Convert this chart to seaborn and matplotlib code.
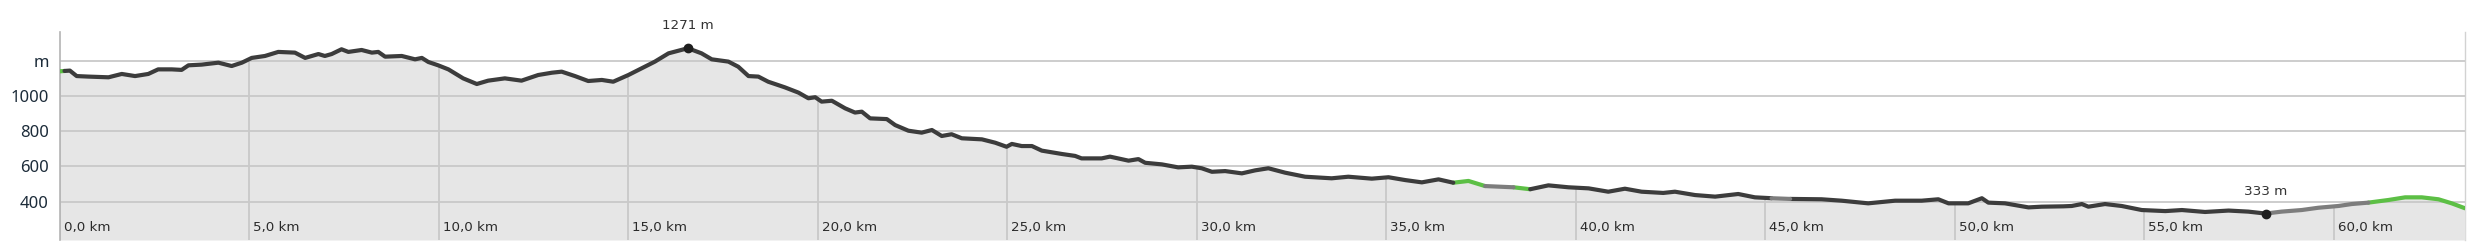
import numpy as np
import pandas as pd
import matplotlib
matplotlib.use("Agg")
import matplotlib.pyplot as plt
from matplotlib import transforms
import seaborn as sns

# ---- data ----
km = np.array([
    0.00, 0.12, 0.26, 0.44, 0.75, 1.28, 1.63, 1.98, 2.33, 2.59, 2.95, 3.21, 3.39, 3.74,
    4.18, 4.53, 4.80, 5.06, 5.41, 5.76, 6.20, 6.47, 6.82, 6.99, 7.17, 7.43, 7.61, 7.96,
    8.23, 8.40, 8.58, 9.02, 9.37, 9.55, 9.72, 9.98, 10.25, 10.64, 11.00, 11.30, 11.74,
    12.18, 12.62, 12.98, 13.24, 13.59, 13.94, 14.30, 14.60, 15.00, 15.35, 15.70, 16.06,
    16.57, 16.93, 17.20, 17.64, 17.90, 18.17, 18.43, 18.69, 19.13, 19.49, 19.75, 19.93,
    20.10, 20.37, 20.72, 20.98, 21.16, 21.38, 21.82, 22.04, 22.39, 22.74, 23.01, 23.27,
    23.53, 23.80, 24.33, 24.68, 24.98, 25.12, 25.38, 25.65, 25.91, 26.44, 26.79, 26.96,
    27.49, 27.71, 28.20, 28.46, 28.64, 29.08, 29.51, 29.87, 30.13, 30.40, 30.75, 31.19,
    31.54, 31.89, 32.33, 32.86, 33.56, 34.00, 34.62, 35.06, 35.50, 35.94, 36.38, 36.77,
    37.17, 37.61, 38.36, 38.80, 39.28, 39.81, 40.34, 40.86, 41.30, 41.74, 42.31, 42.62,
    43.15, 43.68, 44.29, 44.73, 45.17, 45.66, 46.49, 47.02, 47.72, 48.43, 49.13, 49.57,
    49.84, 50.36, 50.72, 50.89, 51.33, 51.95, 52.30, 52.87, 53.09, 53.36, 53.53, 53.97,
    54.41, 54.94, 55.56, 56.00, 56.61, 57.23, 57.75, 58.21, 58.63, 59.16, 59.60, 60.13,
    60.48, 60.92, 61.45, 61.89, 62.33, 62.77, 63.12, 63.47])
elev = np.array([
    1140, 1142, 1144, 1113, 1110, 1106, 1125, 1113, 1125, 1151, 1151, 1148, 1174, 1178,
    1189, 1170, 1189, 1216, 1227, 1250, 1246, 1216, 1238, 1227, 1238, 1265, 1250, 1261,
    1246, 1250, 1223, 1227, 1208, 1216, 1193, 1174, 1151, 1100, 1068, 1087, 1100,
    1087, 1119, 1132, 1138, 1113, 1085, 1091, 1081, 1119, 1157, 1195, 1242,
    1271, 1242, 1208, 1195, 1166, 1113, 1110, 1081, 1049, 1019, 987, 993,
    968, 973, 930, 906, 911, 873, 869, 835, 803, 792, 807, 773,
    783, 760, 754, 735, 712, 728, 716, 716, 690, 671, 660, 646,
    646, 656, 633, 642, 621, 612, 595, 599, 590, 570, 574, 561,
    578, 590, 565, 542, 533, 542, 531, 539, 523, 510, 527, 508,
    518, 489, 482, 471, 493, 482, 476, 457, 474, 457, 450, 457,
    438, 429, 444, 425, 420, 416, 414, 406, 391, 406, 406, 414,
    391, 391, 420, 395, 391, 368, 372, 374, 376, 387, 372, 387,
    376, 353, 347, 353, 342, 350, 344, 333, 344, 353, 366, 376,
    387, 395, 410, 425, 425, 414, 391, 363])

seg_start = [0.00, 0.12, 36.77, 37.61, 38.36, 38.80, 45.17, 45.66, 58.21, 60.92]
seg_end = [0.12, 36.77, 37.61, 38.36, 38.80, 45.17, 45.66, 58.21, 60.92, 63.47]
seg_type = ["green", "dark", "green", "gray", "green", "dark", "gray", "dark", "gray", "green"]

y_ticks = [400, 600, 800, 1000, 1200]
y_labels = ["400", "600", "800", "1000", "m"]
x_ticks = [0, 5, 10, 15, 20, 25, 30, 35, 40, 45, 50, 55, 60]
x_labels = ["0,0 km", "5,0 km", "10,0 km", "15,0 km", "20,0 km", "25,0 km", "30,0 km",
            "35,0 km", "40,0 km", "45,0 km", "50,0 km", "55,0 km", "60,0 km"]

peak_km, peak_elev = 16.57, 1271
low_km, low_elev = 58.21, 333

# ---- styling ----
palette = {"dark": "#3c3c3c", "gray": "#7d7d7d", "green": "#5cbf45"}
grid_c = "#c9c9c9"
fill_c = "#e6e6e6"
y_min, y_max = 183, 1363

sns.set_theme(style="white")
plt.rcParams["font.family"] = ["DejaVu Sans"]

fig = plt.figure(figsize=(24.7, 2.5), dpi=100)
ax = fig.add_axes([60 / 2470, 10 / 250, 2405 / 2470, 208 / 250])
ax.set_xlim(0, km[-1])
ax.set_ylim(y_min, y_max)

ax.fill_between(km, elev, y_min, color=fill_c, lw=0, zorder=1)
for y in y_ticks:
    ax.axhline(y, color=grid_c, lw=1.3, zorder=2)
ax.vlines(x_ticks, y_min, np.interp(x_ticks, km, elev), color=grid_c, lw=1.3, zorder=2)

rows = []
for i, (s, e, t) in enumerate(zip(seg_start, seg_end, seg_type)):
    m = (km >= s - 1e-9) & (km <= e + 1e-9)
    for k, v in zip(km[m], elev[m]):
        rows.append({"km": k, "elev": v, "surface": t, "seg": i})
df = pd.DataFrame(rows)
sns.lineplot(data=df, x="km", y="elev", hue="surface", units="seg", estimator=None,
             sort=False, palette=palette, lw=3.0, legend=False, ax=ax, zorder=3,
             solid_joinstyle="round", solid_capstyle="round")

# extreme markers
for xk, yv in [(peak_km, peak_elev), (low_km, low_elev)]:
    ax.plot([xk], [yv], "o", ms=6, color="#1e1e1e", zorder=4)
    ax.annotate(f"{yv} m", (xk, yv), xytext=(0, 16), textcoords="offset points",
                ha="center", va="center", fontsize=9.7, color="#333333")

# y ticks
ax.set_yticks(y_ticks, y_labels)
ax.tick_params(axis="y", length=0, pad=8, labelsize=12, labelcolor="#1c2b39")
for t in ax.get_yticklabels():
    t.set_fontfamily(["Noto Sans", "DejaVu Sans"])

# x tick labels inside the plot
ax.set_xticks([])
trans = transforms.blended_transform_factory(ax.transData, ax.transAxes) + \
    transforms.ScaledTranslation(4 / 100, 0, fig.dpi_scale_trans)
for xv, lab in zip(x_ticks, x_labels):
    ax.text(xv, 0.058, lab, transform=trans, ha="left", va="center",
            fontsize=9.6, color="#2b2b2b", zorder=5)

ax.set_xlabel("")
ax.set_ylabel("")
for side in ["top", "bottom"]:
    ax.spines[side].set_visible(False)
ax.spines["left"].set_color("#b4b4b4")
ax.spines["left"].set_linewidth(1.2)
ax.spines["right"].set_color("#d2d2d2")
ax.spines["right"].set_linewidth(1.0)
ax.spines["right"].set_zorder(0.5)

fig.savefig("out.png", dpi=100, facecolor="white")
